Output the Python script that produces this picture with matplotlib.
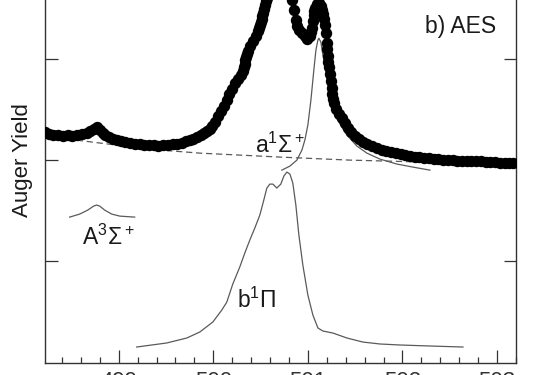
import matplotlib
matplotlib.use("Agg")
import matplotlib.pyplot as plt
from matplotlib.ticker import MultipleLocator

plt.rcParams['font.family'] = ['Liberation Sans', 'DejaVu Sans']
plt.rcParams['mathtext.fontset'] = 'custom'
plt.rcParams['mathtext.rm'] = 'Liberation Sans'
plt.rcParams['mathtext.it'] = 'Liberation Sans'
plt.rcParams['mathtext.default'] = 'rm'

# measured AES spectrum (dots)
aes_x = [498.22, 498.26, 498.31, 498.36, 498.41, 498.46, 498.51, 498.56, 498.61, 498.66,
         498.70, 498.74, 498.77, 498.80, 498.83, 498.86, 498.90, 498.94, 498.98, 499.02,
         499.07, 499.12, 499.17, 499.22, 499.27, 499.32, 499.37, 499.42, 499.47, 499.52,
         499.57, 499.62, 499.67, 499.71, 499.75, 499.79, 499.83, 499.87, 499.90, 499.93,
         499.96, 499.99, 500.02, 500.05, 500.08, 500.11, 500.14, 500.17, 500.20, 500.23,
         500.26, 500.29, 500.31, 500.32, 500.33, 500.34, 500.35, 500.36, 500.37, 500.39,
         500.42, 500.45, 500.47, 500.48, 500.49, 500.50, 500.51, 500.52, 500.53, 500.54,
         500.55, 500.56, 500.57, 500.60, 500.64, 500.68, 500.72, 500.76,
         500.80, 500.83, 500.85, 500.87, 500.89, 500.91, 500.94, 500.97, 500.99, 501.02,
         501.03, 501.04, 501.05, 501.06, 501.07, 501.08, 501.10, 501.12, 501.14, 501.15,
         501.16, 501.17, 501.18, 501.19, 501.20, 501.205, 501.21, 501.215, 501.22, 501.23,
         501.24, 501.25, 501.26, 501.27, 501.28, 501.30, 501.33, 501.36, 501.39, 501.42,
         501.46, 501.50, 501.54, 501.58, 501.63, 501.68, 501.73, 501.78, 501.83, 501.88,
         501.93, 501.98, 502.03, 502.08, 502.13, 502.18, 502.23, 502.28, 502.33, 502.38,
         502.43, 502.48, 502.53, 502.58, 502.63, 502.68, 502.73, 502.78, 502.83, 502.88,
         502.93, 502.98, 503.03, 503.08, 503.13, 503.17]
aes_y = [2.28, 2.26, 2.25, 2.25, 2.24, 2.25, 2.24, 2.25, 2.26, 2.27,
         2.29, 2.31, 2.33, 2.30, 2.27, 2.25, 2.23, 2.21, 2.20, 2.19,
         2.18, 2.17, 2.16, 2.16, 2.15, 2.15, 2.15, 2.14, 2.15, 2.15,
         2.16, 2.16, 2.17, 2.19, 2.20, 2.21, 2.23, 2.25, 2.27, 2.29,
         2.31, 2.34, 2.38, 2.43, 2.48, 2.53, 2.59, 2.65, 2.70, 2.76,
         2.80, 2.84, 2.88, 2.92, 2.95, 2.99, 3.02, 3.05, 3.08, 3.13,
         3.18, 3.22, 3.27, 3.30, 3.33, 3.36, 3.39, 3.42, 3.45, 3.49,
         3.53, 3.57, 3.60, 3.70, 3.78, 3.84, 3.85, 3.80,
         3.70, 3.58, 3.48, 3.38, 3.32, 3.28, 3.25, 3.22, 3.20, 3.22,
         3.26, 3.30, 3.37, 3.43, 3.47, 3.50, 3.54, 3.55, 3.52, 3.48,
         3.44, 3.39, 3.33, 3.25, 3.16, 3.10, 3.03, 2.97, 2.92, 2.85,
         2.78, 2.71, 2.65, 2.60, 2.56, 2.50, 2.45, 2.41, 2.37, 2.32,
         2.28, 2.24, 2.21, 2.18, 2.16, 2.14, 2.12, 2.10, 2.09, 2.08,
         2.07, 2.06, 2.05, 2.04, 2.03, 2.03, 2.02, 2.02, 2.01, 2.01,
         2.00, 2.00, 2.00, 1.99, 1.99, 1.99, 1.99, 1.99, 1.99, 1.98,
         1.98, 1.98, 1.97, 1.97, 1.97, 1.97]

# background (dashed)
bg_x = [498.556, 499.328, 499.857, 500.704, 501.444, 502.259]
bg_y = [2.196, 2.107, 2.068, 2.029, 1.999, 1.979]

# a1Sigma+ component
a_x = [500.725, 500.810, 500.884, 500.937, 500.968, 501.000, 501.032, 501.063, 501.085,
       501.106, 501.116, 501.138, 501.159, 501.190, 501.222, 501.265, 501.307, 501.360,
       501.413, 501.519, 501.624, 501.762, 501.942, 502.111, 502.291]
a_y = [1.900, 1.940, 1.999, 2.098, 2.196, 2.345, 2.591, 2.887, 3.085,
       3.184, 3.203, 3.164, 3.036, 2.887, 2.690, 2.522, 2.413, 2.324,
       2.246, 2.137, 2.068, 2.009, 1.960, 1.930, 1.900]

# b1Pi component
b_x = [499.190, 499.508, 499.720, 499.857, 499.995, 500.090, 500.143, 500.206, 500.280,
       500.333, 500.386, 500.439, 500.492, 500.534, 500.566, 500.598, 500.630, 500.672,
       500.714, 500.746, 500.778, 500.810, 500.841, 500.873, 500.905, 500.947, 501.000,
       501.053, 501.106, 501.159, 501.265, 501.413, 501.582, 501.762, 501.974, 502.291,
       502.640]
b_y = [0.153, 0.193, 0.242, 0.301, 0.400, 0.518, 0.597, 0.775, 0.943,
       1.081, 1.209, 1.328, 1.456, 1.604, 1.723, 1.762, 1.762, 1.723,
       1.762, 1.841, 1.881, 1.861, 1.772, 1.555, 1.259, 0.962, 0.666,
       0.469, 0.341, 0.311, 0.291, 0.242, 0.202, 0.183, 0.173, 0.163,
       0.153]

# A3Sigma+ component
c_x = [498.481, 498.587, 498.672, 498.735, 498.767, 498.799, 498.852, 498.926, 499.011, 499.169]
c_y = [1.436, 1.466, 1.505, 1.545, 1.555, 1.545, 1.505, 1.466, 1.446, 1.436]

fig = plt.figure(figsize=(5.55, 3.75), dpi=100)
ax = fig.add_axes([0.081, 0.0333, 0.8486, 1.08])

line_col = '#5a5a5a'
ax.plot(bg_x, bg_y, ls=(0, (5, 3)), color=line_col, lw=0.9, zorder=2)
ax.plot(a_x, a_y, color=line_col, lw=0.9, zorder=2)
ax.plot(b_x, b_y, color=line_col, lw=0.9, zorder=2)
ax.plot(c_x, c_y, color=line_col, lw=0.9, zorder=2)
ax.plot(aes_x, aes_y, ls='none', marker='o', ms=7.2, color='black', zorder=3)

txt_col = '#1a1a1a'
ax.text(0.9575, 0.8136, 'b) AES', transform=ax.transAxes, ha='right',
        va='baseline', fontsize=16.5, color=txt_col)
ax.text(500.44, 2.068, r'a$^1\Sigma^+$', fontsize=16.5, color=txt_col, va='baseline')
ax.text(498.61, 1.16, r'A$^3\Sigma^+$', fontsize=16.5, color=txt_col, va='baseline')
ax.text(500.25, 0.538, r'b$^1\Pi$', fontsize=16.5, color=txt_col, va='baseline')

ax.set_xlim(498.22, 503.2)
ax.set_ylim(0, 4)
ax.xaxis.set_major_locator(MultipleLocator(1))
ax.xaxis.set_minor_locator(MultipleLocator(0.2))
ax.set_yticks([1, 2, 3])
ax.tick_params(axis='x', which='major', direction='in', length=9.5, width=0.9,
               labelsize=16, pad=6, colors='#333333')
ax.tick_params(axis='x', which='minor', direction='in', length=4.5, width=0.9, colors='#333333')
ax.tick_params(axis='y', which='major', direction='in', length=9, width=0.9,
               left=True, right=True, labelleft=False, colors='#333333')
for s in ax.spines.values():
    s.set_color('#333333')
    s.set_linewidth(1.0)

ax.set_ylabel('Auger Yield', fontsize=16, color=txt_col)
ax.yaxis.set_label_coords(-0.026, 0.5)

plt.savefig('out.png', dpi=100)
